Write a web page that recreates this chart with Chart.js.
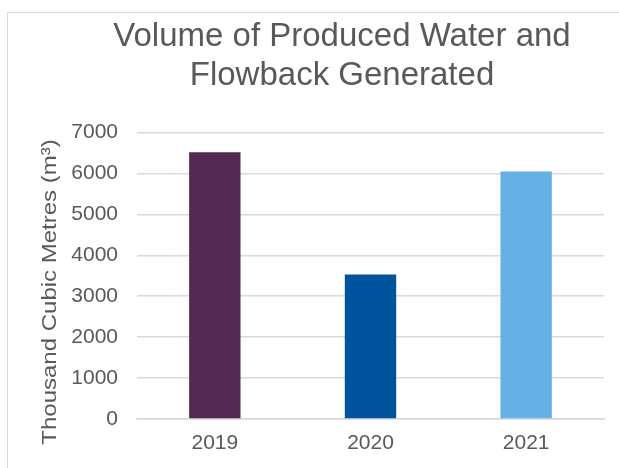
<!DOCTYPE html>
<html>
<head>
<meta charset="utf-8">
<script src="https://cdn.jsdelivr.net/npm/chart.js@4.4.1/dist/chart.umd.min.js"></script>
<style>
  html, body { margin: 0; padding: 0; width: 619px; height: 468px; overflow: hidden; background: #fff; }
  #frame { position: absolute; left: 7px; top: 12px; width: 668px; height: 470px; border: 1px solid #d9d9d9; }
  #frame canvas { display: block; }
</style>
</head>
<body>
<div id="frame"><canvas id="myChart" width="668" height="470"></canvas></div>
<script>
const years = ["2019", "2020", "2021"];
const volumes = [6520, 3530, 6050];
const barColors = ["#522a51", "#01539e", "#65b1e5"];
const yTicks = [0, 1000, 2000, 3000, 4000, 5000, 6000, 7000];
const titleLines = ["Volume of Produced Water and", "Flowback Generated"];
const yTitle = "Thousand Cubic Metres (m\u00b3)";

const grey = "#595959";
const fontFamily = "'Liberation Sans', Arial, sans-serif";

// rotated y axis caption, drawn by hand so it can sit where we want it
const yTitlePlugin = {
  id: "yTitle",
  afterDraw(chart) {
    const c = chart.ctx;
    c.save();
    c.translate(42, 279);
    c.rotate(-Math.PI / 2);
    c.scale(1.2, 1);
    c.font = "20px " + fontFamily;
    c.fillStyle = grey;
    c.textAlign = "center";
    c.textBaseline = "middle";
    c.fillText(yTitle, 0, 0);
    c.restore();
  }
};

const ctx = document.getElementById("myChart");
new Chart(ctx, {
  type: "bar",
  data: {
    labels: years,
    datasets: [{
      data: volumes,
      backgroundColor: barColors,
      barPercentage: 0.33,
      categoryPercentage: 1
    }]
  },
  options: {
    responsive: false,
    animation: false,
    layout: { padding: { left: 0, right: 0, top: 0, bottom: 24 } },
    plugins: {
      legend: { display: false },
      tooltip: { enabled: false },
      title: {
        display: true,
        text: titleLines,
        color: grey,
        font: { family: fontFamily, size: 33, weight: "normal", lineHeight: 1.19 },
        padding: { top: 4, bottom: 37 }
      }
    },
    scales: {
      x: {
        grid: { display: false, drawTicks: false },
        border: { display: true, color: "#d9d9d9", width: 1.5 },
        ticks: { color: grey, font: { family: fontFamily, size: 21 }, padding: 12 },
        afterFit(scale) { scale.height = 40; }
      },
      y: {
        min: 0,
        max: 7000,
        afterBuildTicks(scale) { scale.ticks = yTicks.map(v => ({ value: v })); },
        grid: { color: "#d9d9d9", lineWidth: 1.5, drawTicks: false },
        border: { display: false },
        ticks: {
          color: grey,
          font: { family: fontFamily, size: 21 },
          padding: 19,
          callback: v => String(v)
        },
        afterFit(scale) { scale.width = 129; }
      },
      // empty space on the right of the plot
      pad: {
        type: "linear",
        position: "right",
        grid: { display: false, drawTicks: false },
        border: { display: false },
        ticks: { display: false },
        afterFit(scale) { scale.width = 72; }
      }
    }
  },
  plugins: [yTitlePlugin]
});
</script>
</body>
</html>
